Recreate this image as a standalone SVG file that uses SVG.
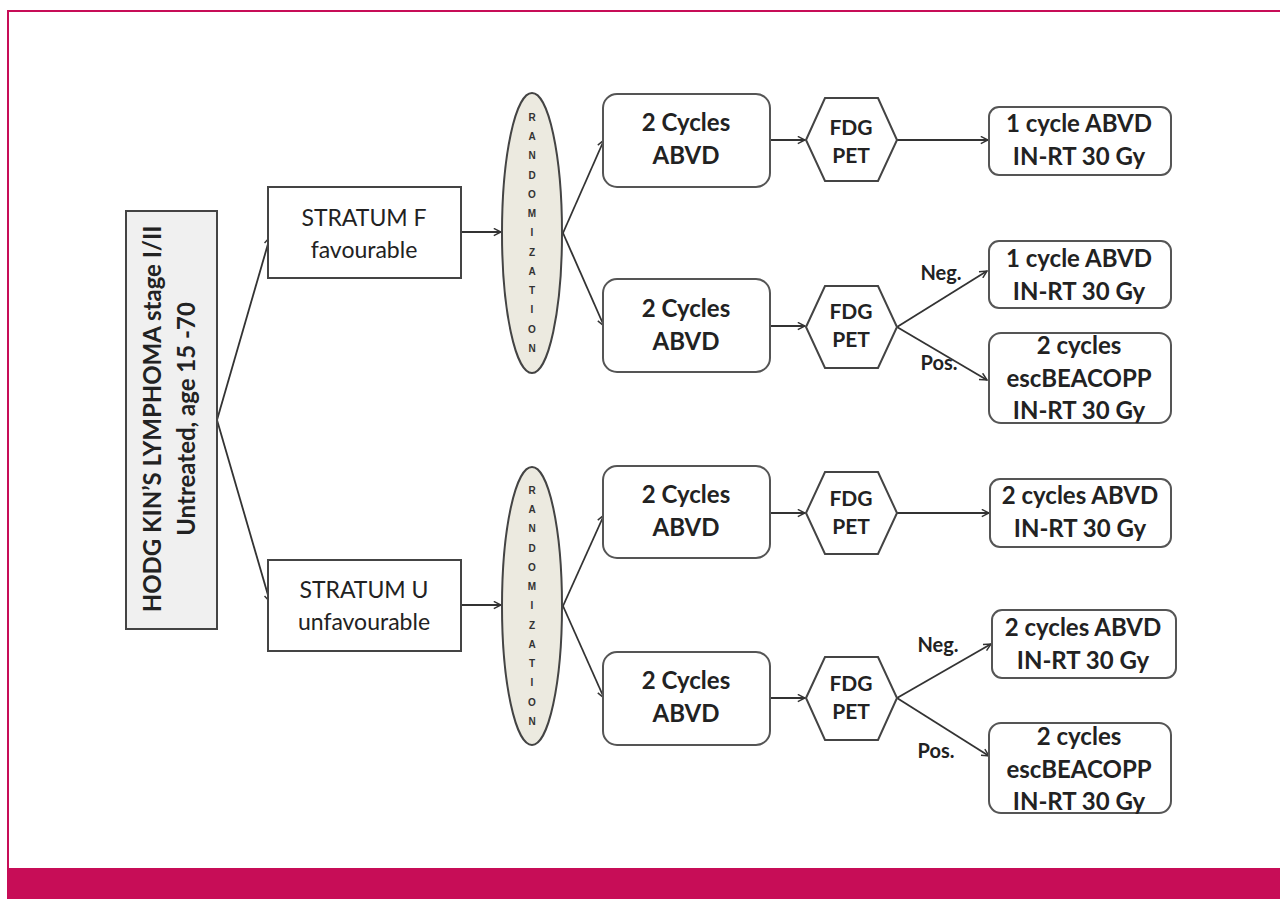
<svg xmlns="http://www.w3.org/2000/svg" width="1280" height="899" viewBox="0 0 1280 899">
<defs>
<marker id="ah" viewBox="0 0 10 10" refX="9" refY="5" markerWidth="9" markerHeight="9" markerUnits="userSpaceOnUse" orient="auto">
<path d="M1,1 L9,5 L1,9" fill="none" stroke="#333" stroke-width="1.6"/>
</marker>
<style>
.box{fill:#fff;stroke:#444;stroke-width:2}
.rbox{fill:#fff;stroke:#555;stroke-width:2}
.ell{fill:#eceae0;stroke:#444;stroke-width:2}
.t{font-family:Lato,"Liberation Sans",sans-serif;font-weight:bold;font-size:24px;fill:#222;text-anchor:middle}
.n{font-family:Lato,"Liberation Sans",sans-serif;font-size:23px;fill:#222;text-anchor:middle}
.f{font-family:Lato,"Liberation Sans",sans-serif;font-weight:bold;font-size:21px;fill:#222;text-anchor:middle}
.s{font-family:Lato,"Liberation Sans",sans-serif;font-weight:bold;font-size:20px;fill:#222;text-anchor:middle}
.r{font-family:"Liberation Sans",sans-serif;font-weight:bold;font-size:10px;fill:#333;text-anchor:middle}
.c{fill:none;stroke:#333;stroke-width:1.8;marker-end:url(#ah)}
</style>
</defs>
<rect width="1280" height="899" fill="#fff"/>
<g id="frame">
<rect x="8" y="10" width="1272" height="2" fill="#c70d57"/>
<rect x="7" y="10" width="2" height="860" fill="#c70d57"/>
<rect x="7" y="868" width="1273" height="31" fill="#c70d57"/>
</g>
<g id="connectors">
<path class="c" d="M217,420 L270,237"/>
<path class="c" d="M217,420 L270,602"/>
<path class="c" d="M461,232 L501,232"/>
<path class="c" d="M461,605 L501,605"/>
<path class="c" d="M563,233 L604,140"/>
<path class="c" d="M563,233 L604,326"/>
<path class="c" d="M563,606 L604,515"/>
<path class="c" d="M563,606 L604,698"/>
<path class="c" d="M770,140 L805,140"/>
<path class="c" d="M770,326 L805,326"/>
<path class="c" d="M770,513 L805,513"/>
<path class="c" d="M770,698 L805,698"/>
<path class="c" d="M897,140 L988,140"/>
<path class="c" d="M897,327 L987,271"/>
<path class="c" d="M897,327 L987,380"/>
<path class="c" d="M897,513 L989,513"/>
<path class="c" d="M897,698 L991,644"/>
<path class="c" d="M897,698 L989,756"/>
<text class="s" x="941" y="280">Neg.</text>
<text class="s" x="939" y="370">Pos.</text>
<text class="s" x="938" y="652">Neg.</text>
<text class="s" x="936" y="758">Pos.</text>
</g>
<g id="main">
<rect x="126" y="211" width="91" height="418" fill="#f0f0f0" stroke="#444" stroke-width="2"/>
<text class="t" font-size="20.5" transform="translate(161,419) rotate(-90)" x="0" y="0">HODG KIN’S LYMPHOMA stage I/II</text>
<text class="t" font-size="20.5" transform="translate(195,419) rotate(-90)" x="0" y="0">Untreated, age 15 -70</text>
</g>
<g id="stratumF">
<rect class="box" x="268" y="187" width="193" height="91"/>
<text class="n" x="364" y="226">STRATUM F</text>
<text class="n" x="364" y="258">favourable</text>
</g>
<g id="stratumU">
<rect class="box" x="268" y="560" width="193" height="91"/>
<text class="n" x="364" y="598">STRATUM U</text>
<text class="n" x="364" y="630">unfavourable</text>
</g>
<g id="rand1">
<ellipse class="ell" cx="532" cy="233" rx="30" ry="140"/>
<text class="r" x="532" y="121">R</text><text class="r" x="532" y="140">A</text><text class="r" x="532" y="159">N</text><text class="r" x="532" y="179">D</text><text class="r" x="532" y="198">O</text><text class="r" x="532" y="217">M</text><text class="r" x="532" y="236">I</text><text class="r" x="532" y="256">Z</text><text class="r" x="532" y="275">A</text><text class="r" x="532" y="294">T</text><text class="r" x="532" y="313">I</text><text class="r" x="532" y="333">O</text><text class="r" x="532" y="352">N</text>
</g>
<g id="rand2">
<ellipse class="ell" cx="532" cy="606" rx="30" ry="139"/>
<text class="r" x="532" y="494">R</text><text class="r" x="532" y="513">A</text><text class="r" x="532" y="532">N</text><text class="r" x="532" y="552">D</text><text class="r" x="532" y="571">O</text><text class="r" x="532" y="590">M</text><text class="r" x="532" y="609">I</text><text class="r" x="532" y="629">Z</text><text class="r" x="532" y="648">A</text><text class="r" x="532" y="667">T</text><text class="r" x="532" y="686">I</text><text class="r" x="532" y="706">O</text><text class="r" x="532" y="725">N</text>
</g>
<g id="abvd1">
<rect class="rbox" x="603" y="94" width="167" height="93" rx="14"/>
<text class="t" x="686" y="131">2 Cycles</text>
<text class="t" x="686" y="164">ABVD</text>
</g>
<g id="abvd2">
<rect class="rbox" x="603" y="279" width="167" height="93" rx="14"/>
<text class="t" x="686" y="317">2 Cycles</text>
<text class="t" x="686" y="350">ABVD</text>
</g>
<g id="abvd3">
<rect class="rbox" x="603" y="466" width="167" height="92" rx="14"/>
<text class="t" x="686" y="503">2 Cycles</text>
<text class="t" x="686" y="536">ABVD</text>
</g>
<g id="abvd4">
<rect class="rbox" x="603" y="652" width="167" height="93" rx="14"/>
<text class="t" x="686" y="689">2 Cycles</text>
<text class="t" x="686" y="722">ABVD</text>
</g>
<g id="pet1">
<polygon class="box" points="806,140 825,98 878,98 897,140 878,181 825,181"/>
<text class="f" x="851" y="135">FDG</text>
<text class="f" x="851" y="163">PET</text>
</g>
<g id="pet2">
<polygon class="box" points="806,327 825,286 878,286 897,327 878,368 825,368"/>
<text class="f" x="851" y="319">FDG</text>
<text class="f" x="851" y="347">PET</text>
</g>
<g id="pet3">
<polygon class="box" points="806,513 825,472 878,472 897,513 878,554 825,554"/>
<text class="f" x="851" y="506">FDG</text>
<text class="f" x="851" y="534">PET</text>
</g>
<g id="pet4">
<polygon class="box" points="806,698 825,657 878,657 897,698 878,740 825,740"/>
<text class="f" x="851" y="691">FDG</text>
<text class="f" x="851" y="719">PET</text>
</g>
<g id="res1">
<rect class="rbox" x="989" y="107" width="182" height="68" rx="10"/>
<text class="t" x="1079" y="132">1 cycle ABVD</text>
<text class="t" x="1079" y="165">IN-RT 30 Gy</text>
</g>
<g id="res2">
<rect class="rbox" x="989" y="241" width="182" height="67" rx="10"/>
<text class="t" x="1079" y="267">1 cycle ABVD</text>
<text class="t" x="1079" y="300">IN-RT 30 Gy</text>
</g>
<g id="res3">
<rect class="rbox" x="989" y="333" width="182" height="90" rx="12"/>
<text class="t" x="1079" y="354">2 cycles</text>
<text class="t" x="1079" y="387">escBEACOPP</text>
<text class="t" x="1079" y="419">IN-RT 30 Gy</text>
</g>
<g id="res4">
<rect class="rbox" x="990" y="479" width="181" height="68" rx="10"/>
<text class="t" x="1080" y="504">2 cycles ABVD</text>
<text class="t" x="1080" y="537">IN-RT 30 Gy</text>
</g>
<g id="res5">
<rect class="rbox" x="992" y="610" width="184" height="68" rx="10"/>
<text class="t" x="1083" y="636">2 cycles ABVD</text>
<text class="t" x="1083" y="669">IN-RT 30 Gy</text>
</g>
<g id="res6">
<rect class="rbox" x="989" y="723" width="182" height="90" rx="12"/>
<text class="t" x="1079" y="745">2 cycles</text>
<text class="t" x="1079" y="778">escBEACOPP</text>
<text class="t" x="1079" y="810">IN-RT 30 Gy</text>
</g>
</svg>
